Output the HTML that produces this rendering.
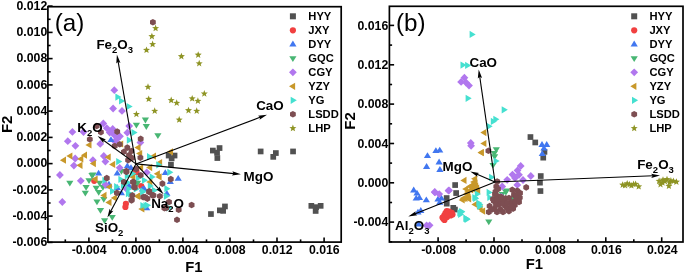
<!DOCTYPE html>
<html><head><meta charset="utf-8"><title>Biplot</title>
<style>html,body{margin:0;padding:0;background:#fff}svg{display:block;will-change:transform;opacity:0.999}text{font-family:"Liberation Sans",sans-serif;fill:#000}</style>
</head><body>
<svg width="685" height="274" viewBox="0 0 685 274" font-family="Liberation Sans, sans-serif">
<rect width="685" height="274" fill="#fff"/>
<g id="pa">
<rect x="165.8" y="152.7" width="5.7" height="5.7" fill="#515151"/>
<rect x="171.7" y="152.7" width="5.7" height="5.7" fill="#515151"/>
<rect x="168.8" y="155.5" width="5.7" height="5.7" fill="#515151"/>
<rect x="168.1" y="161.8" width="5.7" height="5.7" fill="#515151"/>
<rect x="210.0" y="147.7" width="5.7" height="5.7" fill="#515151"/>
<rect x="216.7" y="145.2" width="5.7" height="5.7" fill="#515151"/>
<rect x="214.2" y="149.8" width="5.7" height="5.7" fill="#515151"/>
<rect x="214.5" y="155.2" width="5.7" height="5.7" fill="#515151"/>
<rect x="222.1" y="203.6" width="5.7" height="5.7" fill="#515151"/>
<rect x="217.0" y="207.5" width="5.7" height="5.7" fill="#515151"/>
<rect x="220.3" y="208.0" width="5.7" height="5.7" fill="#515151"/>
<rect x="208.1" y="211.2" width="5.7" height="5.7" fill="#515151"/>
<rect x="257.8" y="148.6" width="5.7" height="5.7" fill="#515151"/>
<rect x="273.0" y="150.2" width="5.7" height="5.7" fill="#515151"/>
<rect x="270.4" y="154.0" width="5.7" height="5.7" fill="#515151"/>
<rect x="290.2" y="148.6" width="5.7" height="5.7" fill="#515151"/>
<rect x="308.5" y="203.0" width="5.7" height="5.7" fill="#515151"/>
<rect x="317.8" y="203.0" width="5.7" height="5.7" fill="#515151"/>
<rect x="313.2" y="204.3" width="5.7" height="5.7" fill="#515151"/>
<rect x="312.8" y="208.1" width="5.7" height="5.7" fill="#515151"/>
<circle cx="135.7" cy="171.1" r="3.1" fill="#F14040"/>
<circle cx="94.2" cy="180.8" r="3.1" fill="#F14040"/>
<circle cx="141.2" cy="186.1" r="3.1" fill="#F14040"/>
<circle cx="125.9" cy="203.8" r="3.1" fill="#F14040"/>
<circle cx="125.4" cy="207.0" r="3.1" fill="#F14040"/>
<circle cx="136.5" cy="171.9" r="3.1" fill="#F14040"/>
<path d="M127.3 162.4L130.9 168.2L123.7 168.2Z" fill="#4177F0"/>
<path d="M98.6 169.7L102.2 175.5L95.0 175.5Z" fill="#4177F0"/>
<path d="M117.2 169.7L120.8 175.5L113.6 175.5Z" fill="#4177F0"/>
<path d="M108.5 182.4L112.1 188.2L104.9 188.2Z" fill="#4177F0"/>
<path d="M117.2 184.1L120.8 189.9L113.6 189.9Z" fill="#4177F0"/>
<path d="M142.4 185.8L146.0 191.6L138.8 191.6Z" fill="#4177F0"/>
<path d="M165.3 169.2L168.9 175.0L161.7 175.0Z" fill="#4177F0"/>
<path d="M178.2 174.9L181.8 180.7L174.6 180.7Z" fill="#4177F0"/>
<path d="M170.3 178.3L173.9 184.1L166.7 184.1Z" fill="#4177F0"/>
<path d="M166.9 190.0L170.5 195.8L163.3 195.8Z" fill="#4177F0"/>
<path d="M146.6 204.4L150.2 210.2L143.0 210.2Z" fill="#4177F0"/>
<path d="M131.0 164.3L134.6 170.1L127.4 170.1Z" fill="#4177F0"/>
<path d="M129.0 182.3L132.6 188.1L125.4 188.1Z" fill="#4177F0"/>
<path d="M109.0 180.8L112.6 186.6L105.4 186.6Z" fill="#4177F0"/>
<path d="M121.4 189.5L125.0 195.3L117.8 195.3Z" fill="#4177F0"/>
<path d="M144.3 185.2L147.9 191.0L140.7 191.0Z" fill="#4177F0"/>
<path d="M145.4 123.4L149.0 117.6L141.8 117.6Z" fill="#48B673"/>
<path d="M136.4 128.5L140.0 122.7L132.8 122.7Z" fill="#48B673"/>
<path d="M146.3 129.9L149.9 124.1L142.7 124.1Z" fill="#48B673"/>
<path d="M157.9 139.0L161.5 133.2L154.3 133.2Z" fill="#48B673"/>
<path d="M92.9 178.2L96.5 172.4L89.3 172.4Z" fill="#48B673"/>
<path d="M121.4 174.8L125.0 169.0L117.8 169.0Z" fill="#48B673"/>
<path d="M69.8 186.5L73.4 180.7L66.2 180.7Z" fill="#48B673"/>
<path d="M92.0 178.9L95.6 173.1L88.4 173.1Z" fill="#48B673"/>
<path d="M89.0 184.0L92.6 178.2L85.4 178.2Z" fill="#48B673"/>
<path d="M86.1 190.7L89.7 184.9L82.5 184.9Z" fill="#48B673"/>
<path d="M85.3 196.6L88.9 190.8L81.7 190.8Z" fill="#48B673"/>
<path d="M96.2 191.5L99.8 185.7L92.6 185.7Z" fill="#48B673"/>
<path d="M99.6 186.5L103.2 180.7L96.0 180.7Z" fill="#48B673"/>
<path d="M98.7 195.7L102.3 189.9L95.1 189.9Z" fill="#48B673"/>
<path d="M97.0 205.2L100.6 199.4L93.4 199.4Z" fill="#48B673"/>
<path d="M103.8 202.7L107.4 196.9L100.2 196.9Z" fill="#48B673"/>
<path d="M100.5 213.7L104.1 207.9L96.9 207.9Z" fill="#48B673"/>
<path d="M102.9 190.7L106.5 184.9L99.3 184.9Z" fill="#48B673"/>
<path d="M135.7 186.5L139.3 180.7L132.1 180.7Z" fill="#48B673"/>
<path d="M104.6 224.0L108.2 218.2L101.0 218.2Z" fill="#48B673"/>
<path d="M112.2 220.7L115.8 214.9L108.6 214.9Z" fill="#48B673"/>
<path d="M137.6 186.5L141.2 180.7L134.0 180.7Z" fill="#48B673"/>
<path d="M114.3 86.3L118.2 90.2L114.3 94.1L110.4 90.2Z" fill="#B177EE"/>
<path d="M113.1 104.6L117.0 108.5L113.1 112.4L109.2 108.5Z" fill="#B177EE"/>
<path d="M122.0 107.0L125.9 110.9L122.0 114.8L118.1 110.9Z" fill="#B177EE"/>
<path d="M129.2 122.1L133.1 126.0L129.2 129.9L125.3 126.0Z" fill="#B177EE"/>
<path d="M103.3 119.6L107.2 123.5L103.3 127.4L99.4 123.5Z" fill="#B177EE"/>
<path d="M72.4 128.0L76.3 131.9L72.4 135.8L68.5 131.9Z" fill="#B177EE"/>
<path d="M67.8 137.3L71.7 141.2L67.8 145.1L63.9 141.2Z" fill="#B177EE"/>
<path d="M127.3 128.8L131.2 132.7L127.3 136.6L123.4 132.7Z" fill="#B177EE"/>
<path d="M100.2 140.0L104.1 143.9L100.2 147.8L96.3 143.9Z" fill="#B177EE"/>
<path d="M75.4 141.9L79.3 145.8L75.4 149.7L71.5 145.8Z" fill="#B177EE"/>
<path d="M103.8 152.1L107.7 156.0L103.8 159.9L99.9 156.0Z" fill="#B177EE"/>
<path d="M75.2 154.6L79.1 158.5L75.2 162.4L71.3 158.5Z" fill="#B177EE"/>
<path d="M92.9 156.3L96.8 160.2L92.9 164.1L89.0 160.2Z" fill="#B177EE"/>
<path d="M105.4 157.7L109.3 161.6L105.4 165.5L101.5 161.6Z" fill="#B177EE"/>
<path d="M73.9 161.7L77.8 165.6L73.9 169.5L70.0 165.6Z" fill="#B177EE"/>
<path d="M59.9 171.1L63.8 175.0L59.9 178.9L56.0 175.0Z" fill="#B177EE"/>
<path d="M119.7 163.9L123.6 167.8L119.7 171.7L115.8 167.8Z" fill="#B177EE"/>
<path d="M140.4 138.7L144.3 142.6L140.4 146.5L136.5 142.6Z" fill="#B177EE"/>
<path d="M146.7 168.5L150.6 172.4L146.7 176.3L142.8 172.4Z" fill="#B177EE"/>
<path d="M80.8 176.9L84.7 180.8L80.8 184.7L76.9 180.8Z" fill="#B177EE"/>
<path d="M62.3 198.1L66.2 202.0L62.3 205.9L58.4 202.0Z" fill="#B177EE"/>
<path d="M106.8 124.3L110.7 128.2L106.8 132.1L102.9 128.2Z" fill="#B177EE"/>
<path d="M112.7 125.1L116.6 129.0L112.7 132.9L108.8 129.0Z" fill="#B177EE"/>
<path d="M109.7 128.7L113.6 132.6L109.7 136.5L105.8 132.6Z" fill="#B177EE"/>
<path d="M114.1 130.9L118.0 134.8L114.1 138.7L110.2 134.8Z" fill="#B177EE"/>
<path d="M117.0 135.3L120.9 139.2L117.0 143.1L113.1 139.2Z" fill="#B177EE"/>
<path d="M120.0 132.4L123.9 136.3L120.0 140.2L116.1 136.3Z" fill="#B177EE"/>
<path d="M114.9 137.7L118.8 141.6L114.9 145.5L111.0 141.6Z" fill="#B177EE"/>
<path d="M83.5 128.1L87.4 132.0L83.5 135.9L79.6 132.0Z" fill="#B177EE"/>
<path d="M105.4 180.6L109.3 184.5L105.4 188.4L101.5 184.5Z" fill="#B177EE"/>
<path d="M126.5 185.0L130.4 188.9L126.5 192.8L122.6 188.9Z" fill="#B177EE"/>
<path d="M85.4 145.0L91.5 141.4L91.5 148.6Z" fill="#C8982A"/>
<path d="M66.3 156.0L72.4 152.4L72.4 159.6Z" fill="#C8982A"/>
<path d="M80.9 155.2L87.0 151.6L87.0 158.8Z" fill="#C8982A"/>
<path d="M59.9 160.2L66.0 156.6L66.0 163.8Z" fill="#C8982A"/>
<path d="M77.2 158.9L83.3 155.3L83.3 162.5Z" fill="#C8982A"/>
<path d="M104.6 157.2L110.7 153.6L110.7 160.8Z" fill="#C8982A"/>
<path d="M89.8 163.6L95.9 160.0L95.9 167.2Z" fill="#C8982A"/>
<path d="M76.4 165.3L82.5 161.7L82.5 168.9Z" fill="#C8982A"/>
<path d="M109.1 164.4L115.2 160.8L115.2 168.0Z" fill="#C8982A"/>
<path d="M134.4 147.6L140.5 144.0L140.5 151.2Z" fill="#C8982A"/>
<path d="M136.1 153.5L142.2 149.9L142.2 157.1Z" fill="#C8982A"/>
<path d="M149.9 156.2L156.0 152.6L156.0 159.8Z" fill="#C8982A"/>
<path d="M146.1 167.6L152.2 164.0L152.2 171.2Z" fill="#C8982A"/>
<path d="M91.5 179.2L97.6 175.6L97.6 182.8Z" fill="#C8982A"/>
<path d="M100.4 195.4L106.5 191.8L106.5 199.0Z" fill="#C8982A"/>
<path d="M105.4 202.4L111.5 198.8L111.5 206.0Z" fill="#C8982A"/>
<path d="M110.8 197.9L116.9 194.3L116.9 201.5Z" fill="#C8982A"/>
<path d="M105.7 187.0L111.8 183.4L111.8 190.6Z" fill="#C8982A"/>
<path d="M129.2 176.9L135.3 173.3L135.3 180.5Z" fill="#C8982A"/>
<path d="M134.3 196.2L140.4 192.6L140.4 199.8Z" fill="#C8982A"/>
<path d="M138.3 209.0L144.4 205.4L144.4 212.6Z" fill="#C8982A"/>
<path d="M166.9 151.8L173.0 148.2L173.0 155.4Z" fill="#C8982A"/>
<path d="M156.0 162.7L162.1 159.1L162.1 166.3Z" fill="#C8982A"/>
<path d="M137.0 167.8L143.1 164.2L143.1 171.4Z" fill="#C8982A"/>
<path d="M153.8 173.8L159.9 170.2L159.9 177.4Z" fill="#C8982A"/>
<path d="M155.5 176.9L161.6 173.3L161.6 180.5Z" fill="#C8982A"/>
<path d="M146.2 182.0L152.3 178.4L152.3 185.6Z" fill="#C8982A"/>
<path d="M133.7 196.2L139.8 192.6L139.8 199.8Z" fill="#C8982A"/>
<path d="M117.1 144.0L123.2 140.4L123.2 147.6Z" fill="#C8982A"/>
<path d="M121.5 97.1L115.4 93.5L115.4 100.7Z" fill="#45E0D0"/>
<path d="M125.1 101.0L119.0 97.4L119.0 104.6Z" fill="#45E0D0"/>
<path d="M132.7 106.5L126.6 102.9L126.6 110.1Z" fill="#45E0D0"/>
<path d="M137.6 132.6L131.5 129.0L131.5 136.2Z" fill="#45E0D0"/>
<path d="M132.9 140.2L126.8 136.6L126.8 143.8Z" fill="#45E0D0"/>
<path d="M122.3 161.6L116.2 158.0L116.2 165.2Z" fill="#45E0D0"/>
<path d="M153.1 156.7L147.0 153.1L147.0 160.3Z" fill="#45E0D0"/>
<path d="M108.5 180.3L102.4 176.7L102.4 183.9Z" fill="#45E0D0"/>
<path d="M116.1 191.2L110.0 187.6L110.0 194.8Z" fill="#45E0D0"/>
<path d="M124.5 179.4L118.4 175.8L118.4 183.0Z" fill="#45E0D0"/>
<path d="M127.0 185.3L120.9 181.7L120.9 188.9Z" fill="#45E0D0"/>
<path d="M132.0 193.7L125.9 190.1L125.9 197.3Z" fill="#45E0D0"/>
<path d="M146.3 192.0L140.2 188.4L140.2 195.6Z" fill="#45E0D0"/>
<path d="M148.0 180.3L141.9 176.7L141.9 183.9Z" fill="#45E0D0"/>
<path d="M158.0 190.3L151.9 186.7L151.9 193.9Z" fill="#45E0D0"/>
<path d="M149.6 205.5L143.5 201.9L143.5 209.1Z" fill="#45E0D0"/>
<path d="M146.5 205.5L140.4 201.9L140.4 209.1Z" fill="#45E0D0"/>
<path d="M151.1 205.3L145.0 201.7L145.0 208.9Z" fill="#45E0D0"/>
<path d="M162.4 164.8L156.3 161.2L156.3 168.4Z" fill="#45E0D0"/>
<path d="M173.4 172.3L167.3 168.7L167.3 175.9Z" fill="#45E0D0"/>
<path d="M155.7 176.9L149.6 173.3L149.6 180.5Z" fill="#45E0D0"/>
<path d="M170.5 188.7L164.4 185.1L164.4 192.3Z" fill="#45E0D0"/>
<path d="M170.0 196.2L163.9 192.6L163.9 199.8Z" fill="#45E0D0"/>
<path d="M146.5 191.2L140.4 187.6L140.4 194.8Z" fill="#45E0D0"/>
<path d="M172.5 207.8L166.4 204.2L166.4 211.4Z" fill="#45E0D0"/>
<path d="M130.9 176.0L124.8 172.4L124.8 179.6Z" fill="#45E0D0"/>
<path d="M136.4 173.5L130.3 169.9L130.3 177.1Z" fill="#45E0D0"/>
<path d="M131.4 182.5L125.3 178.9L125.3 186.1Z" fill="#45E0D0"/>
<path d="M132.4 189.0L126.3 185.4L126.3 192.6Z" fill="#45E0D0"/>
<path d="M141.9 178.0L135.8 174.4L135.8 181.6Z" fill="#45E0D0"/>
<path d="M153.9 186.0L147.8 182.4L147.8 189.6Z" fill="#45E0D0"/>
<path d="M120.2 186.7L114.1 183.1L114.1 190.3Z" fill="#45E0D0"/>
<path d="M134.1 194.0L128.0 190.4L128.0 197.6Z" fill="#45E0D0"/>
<path d="M139.9 189.0L133.8 185.4L133.8 192.6Z" fill="#45E0D0"/>
<path d="M155.8 23.9L152.9 25.6L150.0 23.9L150.0 20.6L152.9 19.0L155.8 20.6Z" fill="#7D4E52"/>
<path d="M99.6 127.7L96.7 129.3L93.8 127.7L93.8 124.3L96.7 122.7L99.6 124.3Z" fill="#7D4E52"/>
<path d="M103.8 133.8L100.9 135.5L98.0 133.8L98.0 130.5L100.9 128.9L103.8 130.5Z" fill="#7D4E52"/>
<path d="M120.1 133.2L117.2 134.9L114.3 133.2L114.3 129.9L117.2 128.3L120.1 129.9Z" fill="#7D4E52"/>
<path d="M92.7 141.0L89.8 142.6L86.9 141.0L86.9 137.7L89.8 136.0L92.7 137.7Z" fill="#7D4E52"/>
<path d="M143.6 140.5L140.7 142.1L137.8 140.5L137.8 137.2L140.7 135.5L143.6 137.2Z" fill="#7D4E52"/>
<path d="M130.2 149.2L127.3 150.9L124.4 149.2L124.4 145.9L127.3 144.3L130.2 145.9Z" fill="#7D4E52"/>
<path d="M126.8 153.5L123.9 155.1L121.0 153.5L121.0 150.2L123.9 148.5L126.8 150.2Z" fill="#7D4E52"/>
<path d="M131.9 156.8L129.0 158.5L126.1 156.8L126.1 153.5L129.0 151.9L131.9 153.5Z" fill="#7D4E52"/>
<path d="M131.0 161.8L128.1 163.5L125.2 161.8L125.2 158.5L128.1 156.9L131.0 158.5Z" fill="#7D4E52"/>
<path d="M122.6 146.0L119.7 147.6L116.8 146.0L116.8 142.7L119.7 141.0L122.6 142.7Z" fill="#7D4E52"/>
<path d="M117.6 147.7L114.7 149.3L111.8 147.7L111.8 144.3L114.7 142.7L117.6 144.3Z" fill="#7D4E52"/>
<path d="M143.3 159.3L140.4 161.0L137.5 159.3L137.5 156.0L140.4 154.4L143.3 156.0Z" fill="#7D4E52"/>
<path d="M129.3 172.8L126.4 174.4L123.5 172.8L123.5 169.4L126.4 167.8L129.3 169.4Z" fill="#7D4E52"/>
<path d="M139.1 170.7L136.2 172.3L133.3 170.7L133.3 167.3L136.2 165.7L139.1 167.3Z" fill="#7D4E52"/>
<path d="M109.7 179.8L106.8 181.4L103.9 179.8L103.9 176.4L106.8 174.8L109.7 176.4Z" fill="#7D4E52"/>
<path d="M119.8 194.6L116.9 196.2L114.0 194.6L114.0 191.2L116.9 189.6L119.8 191.2Z" fill="#7D4E52"/>
<path d="M129.3 173.6L126.4 175.2L123.5 173.6L123.5 170.2L126.4 168.6L129.3 170.2Z" fill="#7D4E52"/>
<path d="M126.8 183.7L123.9 185.3L121.0 183.7L121.0 180.3L123.9 178.7L126.8 180.3Z" fill="#7D4E52"/>
<path d="M136.0 183.7L133.1 185.3L130.2 183.7L130.2 180.3L133.1 178.7L136.0 180.3Z" fill="#7D4E52"/>
<path d="M137.7 189.2L134.8 190.8L131.9 189.2L131.9 185.8L134.8 184.2L137.7 185.8Z" fill="#7D4E52"/>
<path d="M143.6 176.8L140.7 178.5L137.8 176.8L137.8 173.5L140.7 171.9L143.6 173.5Z" fill="#7D4E52"/>
<path d="M135.2 197.1L132.3 198.7L129.4 197.1L129.4 193.8L132.3 192.1L135.2 193.8Z" fill="#7D4E52"/>
<path d="M134.4 202.1L131.5 203.7L128.6 202.1L128.6 198.8L131.5 197.1L134.4 198.8Z" fill="#7D4E52"/>
<path d="M146.1 198.8L143.2 200.4L140.3 198.8L140.3 195.4L143.2 193.8L146.1 195.4Z" fill="#7D4E52"/>
<path d="M150.3 200.3L147.4 202.0L144.5 200.3L144.5 197.0L147.4 195.4L150.3 197.0Z" fill="#7D4E52"/>
<path d="M152.0 193.7L149.1 195.3L146.2 193.7L146.2 190.3L149.1 188.7L152.0 190.3Z" fill="#7D4E52"/>
<path d="M155.4 197.1L152.5 198.7L149.6 197.1L149.6 193.8L152.5 192.1L155.4 193.8Z" fill="#7D4E52"/>
<path d="M173.7 180.8L170.8 182.4L167.9 180.8L167.9 177.4L170.8 175.8L173.7 177.4Z" fill="#7D4E52"/>
<path d="M165.3 185.2L162.4 186.9L159.5 185.2L159.5 181.9L162.4 180.3L165.3 181.9Z" fill="#7D4E52"/>
<path d="M162.8 197.8L159.9 199.5L157.0 197.8L157.0 194.5L159.9 192.9L162.8 194.5Z" fill="#7D4E52"/>
<path d="M156.4 197.1L153.5 198.7L150.6 197.1L150.6 193.8L153.5 192.1L156.4 193.8Z" fill="#7D4E52"/>
<path d="M152.2 192.8L149.3 194.5L146.4 192.8L146.4 189.5L149.3 187.9L152.2 189.5Z" fill="#7D4E52"/>
<path d="M148.0 198.8L145.1 200.4L142.2 198.8L142.2 195.4L145.1 193.8L148.0 195.4Z" fill="#7D4E52"/>
<path d="M171.9 203.7L169.0 205.3L166.1 203.7L166.1 200.3L169.0 198.7L171.9 200.3Z" fill="#7D4E52"/>
<path d="M194.5 206.7L191.6 208.3L188.7 206.7L188.7 203.3L191.6 201.7L194.5 203.3Z" fill="#7D4E52"/>
<path d="M181.6 211.5L178.7 213.1L175.8 211.5L175.8 208.2L178.7 206.5L181.6 208.2Z" fill="#7D4E52"/>
<path d="M169.0 209.7L166.1 211.3L163.2 209.7L163.2 206.3L166.1 204.7L169.0 206.3Z" fill="#7D4E52"/>
<path d="M179.9 221.5L177.0 223.1L174.1 221.5L174.1 218.2L177.0 216.5L179.9 218.2Z" fill="#7D4E52"/>
<path d="M167.3 209.8L164.4 211.4L161.5 209.8L161.5 206.4L164.4 204.8L167.3 206.4Z" fill="#7D4E52"/>
<path d="M136.3 183.7L133.4 185.3L130.5 183.7L130.5 180.3L133.4 178.7L136.3 180.3Z" fill="#7D4E52"/>
<path d="M137.1 188.7L134.2 190.3L131.3 188.7L131.3 185.3L134.2 183.7L137.1 185.3Z" fill="#7D4E52"/>
<path d="M134.6 201.2L131.7 202.9L128.8 201.2L128.8 197.9L131.7 196.3L134.6 197.9Z" fill="#7D4E52"/>
<path d="M134.4 152.7L131.5 154.3L128.6 152.7L128.6 149.3L131.5 147.7L134.4 149.3Z" fill="#7D4E52"/>
<path d="M134.9 159.7L132.0 161.3L129.1 159.7L129.1 156.3L132.0 154.7L134.9 156.3Z" fill="#7D4E52"/>
<path d="M155.6 24.6L156.5 27.0L159.1 27.2L157.1 28.8L157.8 31.3L155.6 29.9L153.4 31.3L154.1 28.8L152.1 27.2L154.7 27.0Z" fill="#8E9424"/>
<path d="M151.9 32.7L152.8 35.1L155.4 35.3L153.4 36.9L154.1 39.4L151.9 38.0L149.7 39.4L150.4 36.9L148.4 35.3L151.0 35.1Z" fill="#8E9424"/>
<path d="M152.6 40.6L153.5 43.0L156.1 43.2L154.1 44.8L154.8 47.3L152.6 45.9L150.4 47.3L151.1 44.8L149.1 43.2L151.7 43.0Z" fill="#8E9424"/>
<path d="M146.5 46.4L147.4 48.8L150.0 49.0L148.0 50.6L148.7 53.1L146.5 51.7L144.3 53.1L145.0 50.6L143.0 49.0L145.6 48.8Z" fill="#8E9424"/>
<path d="M181.4 52.7L182.3 55.1L184.9 55.3L182.9 56.9L183.6 59.4L181.4 58.0L179.2 59.4L179.9 56.9L177.9 55.3L180.5 55.1Z" fill="#8E9424"/>
<path d="M198.2 51.2L199.1 53.6L201.7 53.8L199.7 55.4L200.4 57.9L198.2 56.5L196.0 57.9L196.7 55.4L194.7 53.8L197.3 53.6Z" fill="#8E9424"/>
<path d="M199.2 59.8L200.1 62.2L202.7 62.4L200.7 64.0L201.4 66.5L199.2 65.1L197.0 66.5L197.7 64.0L195.7 62.4L198.3 62.2Z" fill="#8E9424"/>
<path d="M148.0 83.3L148.9 85.7L151.5 85.9L149.5 87.5L150.2 90.0L148.0 88.6L145.8 90.0L146.5 87.5L144.5 85.9L147.1 85.7Z" fill="#8E9424"/>
<path d="M204.3 90.0L205.2 92.4L207.8 92.6L205.8 94.2L206.5 96.7L204.3 95.3L202.1 96.7L202.8 94.2L200.8 92.6L203.4 92.4Z" fill="#8E9424"/>
<path d="M148.7 95.4L149.6 97.8L152.2 98.0L150.2 99.6L150.9 102.1L148.7 100.7L146.5 102.1L147.2 99.6L145.2 98.0L147.8 97.8Z" fill="#8E9424"/>
<path d="M171.2 96.6L172.1 99.0L174.7 99.2L172.7 100.8L173.4 103.3L171.2 101.9L169.0 103.3L169.7 100.8L167.7 99.2L170.3 99.0Z" fill="#8E9424"/>
<path d="M176.7 99.3L177.6 101.7L180.2 101.9L178.2 103.5L178.9 106.0L176.7 104.6L174.5 106.0L175.2 103.5L173.2 101.9L175.8 101.7Z" fill="#8E9424"/>
<path d="M192.2 94.9L193.1 97.3L195.7 97.5L193.7 99.1L194.4 101.6L192.2 100.2L190.0 101.6L190.7 99.1L188.7 97.5L191.3 97.3Z" fill="#8E9424"/>
<path d="M197.9 97.3L198.8 99.7L201.4 99.9L199.4 101.5L200.1 104.0L197.9 102.6L195.7 104.0L196.4 101.5L194.4 99.9L197.0 99.7Z" fill="#8E9424"/>
<path d="M154.7 107.3L155.6 109.7L158.2 109.9L156.2 111.5L156.9 114.0L154.7 112.6L152.5 114.0L153.2 111.5L151.2 109.9L153.8 109.7Z" fill="#8E9424"/>
<path d="M188.5 106.7L189.4 109.1L192.0 109.3L190.0 110.9L190.7 113.4L188.5 112.0L186.3 113.4L187.0 110.9L185.0 109.3L187.6 109.1Z" fill="#8E9424"/>
<path d="M196.7 107.3L197.6 109.7L200.2 109.9L198.2 111.5L198.9 114.0L196.7 112.6L194.5 114.0L195.2 111.5L193.2 109.9L195.8 109.7Z" fill="#8E9424"/>
<path d="M136.4 110.5L137.3 112.9L139.9 113.1L137.9 114.7L138.6 117.2L136.4 115.8L134.2 117.2L134.9 114.7L132.9 113.1L135.5 112.9Z" fill="#8E9424"/>
<path d="M179.2 116.1L180.1 118.5L182.7 118.7L180.7 120.3L181.4 122.8L179.2 121.4L177.0 122.8L177.7 120.3L175.7 118.7L178.3 118.5Z" fill="#8E9424"/>
<path d="M111.0 136.2L114.6 142.0L107.4 142.0Z" fill="#4177F0"/>
<line x1="135.9" y1="163.9" x2="118.1" y2="61.3" stroke="#000" stroke-width="1.1"/><path d="M116.9 54.6L120.5 62.9L118.2 61.8L116.3 63.6Z" fill="#000"/>
<line x1="135.9" y1="163.9" x2="260.6" y2="117.1" stroke="#000" stroke-width="1.1"/><path d="M267.0 114.7L259.5 119.8L260.2 117.3L258.0 115.8Z" fill="#000"/>
<line x1="135.9" y1="163.9" x2="234.1" y2="173.6" stroke="#000" stroke-width="1.1"/><path d="M240.9 174.3L231.9 175.6L233.6 173.6L232.4 171.3Z" fill="#000"/>
<line x1="135.9" y1="163.9" x2="159.0" y2="189.2" stroke="#000" stroke-width="1.1"/><path d="M163.6 194.2L156.1 189.2L158.7 188.8L159.2 186.3Z" fill="#000"/>
<line x1="135.9" y1="163.9" x2="110.6" y2="211.6" stroke="#000" stroke-width="1.1"/><path d="M107.4 217.6L109.6 208.8L110.8 211.2L113.4 210.8Z" fill="#000"/>
<line x1="135.9" y1="163.9" x2="103.1" y2="140.0" stroke="#000" stroke-width="1.1"/><path d="M97.6 136.0L106.0 139.4L103.5 140.3L103.4 142.9Z" fill="#000"/>
<text x="96.4" y="49.2" font-size="13.4" font-weight="bold">Fe<tspan font-size="9.5" dy="3.9">2</tspan><tspan dy="-3.9" font-size="1">&#8203;</tspan>O<tspan font-size="9.5" dy="3.9">3</tspan><tspan dy="-3.9" font-size="1">&#8203;</tspan></text>
<text x="256.2" y="110.2" font-size="13.4" font-weight="bold">CaO</text>
<text x="243.6" y="180.5" font-size="13.4" font-weight="bold">MgO</text>
<text x="151.2" y="208.0" font-size="13.4" font-weight="bold">Na<tspan font-size="9.5" dy="3.9">2</tspan><tspan dy="-3.9" font-size="1">&#8203;</tspan>O</text>
<text x="95.0" y="232.2" font-size="13.4" font-weight="bold">SiO<tspan font-size="9.5" dy="3.9">2</tspan><tspan dy="-3.9" font-size="1">&#8203;</tspan></text>
<text x="77.3" y="131.6" font-size="13.4" font-weight="bold">K<tspan font-size="9.5" dy="3.9">2</tspan><tspan dy="-3.9" font-size="1">&#8203;</tspan>O</text>
<line x1="88.9" y1="242.1" x2="88.9" y2="237.4" stroke="#000" stroke-width="1.6"/>
<text x="89.1" y="254.3" font-size="12.3" font-weight="bold" text-anchor="middle">-0.004</text>
<line x1="135.9" y1="242.1" x2="135.9" y2="237.4" stroke="#000" stroke-width="1.6"/>
<text x="136.1" y="254.3" font-size="12.3" font-weight="bold" text-anchor="middle">0.000</text>
<line x1="182.9" y1="242.1" x2="182.9" y2="237.4" stroke="#000" stroke-width="1.6"/>
<text x="183.1" y="254.3" font-size="12.3" font-weight="bold" text-anchor="middle">0.004</text>
<line x1="230.0" y1="242.1" x2="230.0" y2="237.4" stroke="#000" stroke-width="1.6"/>
<text x="230.2" y="254.3" font-size="12.3" font-weight="bold" text-anchor="middle">0.008</text>
<line x1="277.0" y1="242.1" x2="277.0" y2="237.4" stroke="#000" stroke-width="1.6"/>
<text x="277.2" y="254.3" font-size="12.3" font-weight="bold" text-anchor="middle">0.012</text>
<line x1="324.1" y1="242.1" x2="324.1" y2="237.4" stroke="#000" stroke-width="1.6"/>
<text x="324.3" y="254.3" font-size="12.3" font-weight="bold" text-anchor="middle">0.016</text>
<line x1="65.3" y1="242.1" x2="65.3" y2="239.4" stroke="#000" stroke-width="1.6"/>
<line x1="112.4" y1="242.1" x2="112.4" y2="239.4" stroke="#000" stroke-width="1.6"/>
<line x1="159.4" y1="242.1" x2="159.4" y2="239.4" stroke="#000" stroke-width="1.6"/>
<line x1="206.5" y1="242.1" x2="206.5" y2="239.4" stroke="#000" stroke-width="1.6"/>
<line x1="253.5" y1="242.1" x2="253.5" y2="239.4" stroke="#000" stroke-width="1.6"/>
<line x1="300.6" y1="242.1" x2="300.6" y2="239.4" stroke="#000" stroke-width="1.6"/>
<line x1="47.9" y1="242.4" x2="52.6" y2="242.4" stroke="#000" stroke-width="1.6"/>
<text x="47.3" y="246.2" font-size="12.3" font-weight="bold" text-anchor="end">-0.006</text>
<line x1="47.9" y1="216.1" x2="52.6" y2="216.1" stroke="#000" stroke-width="1.6"/>
<text x="47.3" y="219.9" font-size="12.3" font-weight="bold" text-anchor="end">-0.004</text>
<line x1="47.9" y1="189.9" x2="52.6" y2="189.9" stroke="#000" stroke-width="1.6"/>
<text x="47.3" y="193.7" font-size="12.3" font-weight="bold" text-anchor="end">-0.002</text>
<line x1="47.9" y1="163.6" x2="52.6" y2="163.6" stroke="#000" stroke-width="1.6"/>
<text x="47.3" y="167.4" font-size="12.3" font-weight="bold" text-anchor="end">0.000</text>
<line x1="47.9" y1="137.4" x2="52.6" y2="137.4" stroke="#000" stroke-width="1.6"/>
<text x="47.3" y="141.2" font-size="12.3" font-weight="bold" text-anchor="end">0.002</text>
<line x1="47.9" y1="111.1" x2="52.6" y2="111.1" stroke="#000" stroke-width="1.6"/>
<text x="47.3" y="114.9" font-size="12.3" font-weight="bold" text-anchor="end">0.004</text>
<line x1="47.9" y1="84.9" x2="52.6" y2="84.9" stroke="#000" stroke-width="1.6"/>
<text x="47.3" y="88.7" font-size="12.3" font-weight="bold" text-anchor="end">0.006</text>
<line x1="47.9" y1="58.6" x2="52.6" y2="58.6" stroke="#000" stroke-width="1.6"/>
<text x="47.3" y="62.4" font-size="12.3" font-weight="bold" text-anchor="end">0.008</text>
<line x1="47.9" y1="32.4" x2="52.6" y2="32.4" stroke="#000" stroke-width="1.6"/>
<text x="47.3" y="36.2" font-size="12.3" font-weight="bold" text-anchor="end">0.010</text>
<line x1="47.9" y1="6.1" x2="52.6" y2="6.1" stroke="#000" stroke-width="1.6"/>
<text x="47.3" y="9.9" font-size="12.3" font-weight="bold" text-anchor="end">0.012</text>
<line x1="47.9" y1="229.2" x2="50.6" y2="229.2" stroke="#000" stroke-width="1.6"/>
<line x1="47.9" y1="203.0" x2="50.6" y2="203.0" stroke="#000" stroke-width="1.6"/>
<line x1="47.9" y1="176.7" x2="50.6" y2="176.7" stroke="#000" stroke-width="1.6"/>
<line x1="47.9" y1="150.5" x2="50.6" y2="150.5" stroke="#000" stroke-width="1.6"/>
<line x1="47.9" y1="124.2" x2="50.6" y2="124.2" stroke="#000" stroke-width="1.6"/>
<line x1="47.9" y1="98.0" x2="50.6" y2="98.0" stroke="#000" stroke-width="1.6"/>
<line x1="47.9" y1="71.8" x2="50.6" y2="71.8" stroke="#000" stroke-width="1.6"/>
<line x1="47.9" y1="45.5" x2="50.6" y2="45.5" stroke="#000" stroke-width="1.6"/>
<line x1="47.9" y1="19.3" x2="50.6" y2="19.3" stroke="#000" stroke-width="1.6"/>
<rect x="47.9" y="6.7" width="293.3" height="235.4" fill="none" stroke="#000" stroke-width="1.7"/>
</g>
<g id="pb">
<rect x="527.6" y="134.2" width="5.7" height="5.7" fill="#515151"/>
<rect x="532.4" y="139.6" width="5.7" height="5.7" fill="#515151"/>
<rect x="541.6" y="149.0" width="5.7" height="5.7" fill="#515151"/>
<rect x="540.4" y="154.8" width="5.7" height="5.7" fill="#515151"/>
<rect x="537.9" y="173.2" width="5.7" height="5.7" fill="#515151"/>
<rect x="537.1" y="179.8" width="5.7" height="5.7" fill="#515151"/>
<rect x="537.6" y="188.2" width="5.7" height="5.7" fill="#515151"/>
<rect x="452.3" y="182.2" width="5.7" height="5.7" fill="#515151"/>
<rect x="453.3" y="190.2" width="5.7" height="5.7" fill="#515151"/>
<rect x="443.8" y="195.2" width="5.7" height="5.7" fill="#515151"/>
<rect x="443.9" y="200.8" width="5.7" height="5.7" fill="#515151"/>
<rect x="450.4" y="205.0" width="5.7" height="5.7" fill="#515151"/>
<rect x="452.1" y="206.7" width="5.7" height="5.7" fill="#515151"/>
<circle cx="446.8" cy="211.1" r="3.1" fill="#F14040"/>
<circle cx="444.3" cy="215.3" r="3.1" fill="#F14040"/>
<circle cx="448.5" cy="214.5" r="3.1" fill="#F14040"/>
<circle cx="451.8" cy="212.8" r="3.1" fill="#F14040"/>
<circle cx="443.4" cy="218.7" r="3.1" fill="#F14040"/>
<circle cx="445.5" cy="213.0" r="3.1" fill="#F14040"/>
<circle cx="442.5" cy="217.5" r="3.1" fill="#F14040"/>
<circle cx="447.0" cy="217.0" r="3.1" fill="#F14040"/>
<circle cx="450.5" cy="215.5" r="3.1" fill="#F14040"/>
<circle cx="449.0" cy="211.5" r="3.1" fill="#F14040"/>
<circle cx="452.5" cy="214.5" r="3.1" fill="#F14040"/>
<circle cx="444.5" cy="220.0" r="3.1" fill="#F14040"/>
<path d="M435.9 147.3L439.5 153.1L432.3 153.1Z" fill="#4177F0"/>
<path d="M439.7 146.8L443.3 152.6L436.1 152.6Z" fill="#4177F0"/>
<path d="M427.5 152.3L431.1 158.1L423.9 158.1Z" fill="#4177F0"/>
<path d="M426.6 163.1L430.2 168.9L423.0 168.9Z" fill="#4177F0"/>
<path d="M439.1 158.6L442.7 164.4L435.5 164.4Z" fill="#4177F0"/>
<path d="M439.9 166.1L443.5 171.9L436.3 171.9Z" fill="#4177F0"/>
<path d="M413.7 186.6L417.3 192.4L410.1 192.4Z" fill="#4177F0"/>
<path d="M417.0 189.8L420.6 195.6L413.4 195.6Z" fill="#4177F0"/>
<path d="M418.0 208.8L421.6 214.6L414.4 214.6Z" fill="#4177F0"/>
<path d="M420.8 207.1L424.4 212.9L417.2 212.9Z" fill="#4177F0"/>
<path d="M416.2 194.8L419.8 200.6L412.6 200.6Z" fill="#4177F0"/>
<path d="M419.5 194.3L423.1 200.1L415.9 200.1Z" fill="#4177F0"/>
<path d="M426.3 196.5L429.9 202.3L422.7 202.3Z" fill="#4177F0"/>
<path d="M438.0 195.7L441.6 201.5L434.4 201.5Z" fill="#4177F0"/>
<path d="M441.4 194.8L445.0 200.6L437.8 200.6Z" fill="#4177F0"/>
<path d="M439.7 199.0L443.3 204.8L436.1 204.8Z" fill="#4177F0"/>
<path d="M418.7 220.8L422.3 226.6L415.1 226.6Z" fill="#4177F0"/>
<path d="M542.0 141.1L545.6 146.9L538.4 146.9Z" fill="#4177F0"/>
<path d="M546.7 141.1L550.3 146.9L543.1 146.9Z" fill="#4177F0"/>
<path d="M544.0 144.8L547.6 150.6L540.4 150.6Z" fill="#4177F0"/>
<path d="M542.3 150.3L545.9 156.1L538.7 156.1Z" fill="#4177F0"/>
<path d="M496.3 153.1L499.9 147.3L492.7 147.3Z" fill="#48B673"/>
<path d="M494.3 156.8L497.9 151.0L490.7 151.0Z" fill="#48B673"/>
<path d="M494.6 160.1L498.2 154.3L491.0 154.3Z" fill="#48B673"/>
<path d="M493.0 168.7L496.6 162.9L489.4 162.9Z" fill="#48B673"/>
<path d="M506.4 194.4L510.0 188.6L502.8 188.6Z" fill="#48B673"/>
<path d="M502.2 197.8L505.8 192.0L498.6 192.0Z" fill="#48B673"/>
<path d="M512.3 202.1L515.9 196.3L508.7 196.3Z" fill="#48B673"/>
<path d="M488.8 225.2L492.4 219.4L485.2 219.4Z" fill="#48B673"/>
<path d="M505.9 195.5L509.5 189.7L502.3 189.7Z" fill="#48B673"/>
<path d="M511.8 202.0L515.4 196.2L508.2 196.2Z" fill="#48B673"/>
<path d="M464.4 73.8L468.3 77.7L464.4 81.6L460.5 77.7Z" fill="#B177EE"/>
<path d="M461.1 78.0L465.0 81.9L461.1 85.8L457.2 81.9Z" fill="#B177EE"/>
<path d="M466.0 78.6L469.9 82.5L466.0 86.4L462.1 82.5Z" fill="#B177EE"/>
<path d="M469.0 81.7L472.9 85.6L469.0 89.5L465.1 85.6Z" fill="#B177EE"/>
<path d="M470.8 139.1L474.7 143.0L470.8 146.9L466.9 143.0Z" fill="#B177EE"/>
<path d="M471.1 141.9L475.0 145.8L471.1 149.7L467.2 145.8Z" fill="#B177EE"/>
<path d="M520.7 162.1L524.6 166.0L520.7 169.9L516.8 166.0Z" fill="#B177EE"/>
<path d="M517.5 166.5L521.4 170.4L517.5 174.3L513.6 170.4Z" fill="#B177EE"/>
<path d="M512.5 170.7L516.4 174.6L512.5 178.5L508.6 174.6Z" fill="#B177EE"/>
<path d="M507.2 175.9L511.1 179.8L507.2 183.7L503.3 179.8Z" fill="#B177EE"/>
<path d="M519.0 170.9L522.9 174.8L519.0 178.7L515.1 174.8Z" fill="#B177EE"/>
<path d="M530.8 172.1L534.7 176.0L530.8 179.9L526.9 176.0Z" fill="#B177EE"/>
<path d="M517.3 181.0L521.2 184.9L517.3 188.8L513.4 184.9Z" fill="#B177EE"/>
<path d="M523.0 176.1L526.9 180.0L523.0 183.9L519.1 180.0Z" fill="#B177EE"/>
<path d="M502.2 182.6L506.1 186.5L502.2 190.4L498.3 186.5Z" fill="#B177EE"/>
<path d="M515.0 174.1L518.9 178.0L515.0 181.9L511.1 178.0Z" fill="#B177EE"/>
<path d="M435.0 188.5L438.9 192.4L435.0 196.3L431.1 192.4Z" fill="#B177EE"/>
<path d="M439.2 190.2L443.1 194.1L439.2 198.0L435.3 194.1Z" fill="#B177EE"/>
<path d="M448.5 186.8L452.4 190.7L448.5 194.6L444.6 190.7Z" fill="#B177EE"/>
<path d="M434.7 188.1L438.6 192.0L434.7 195.9L430.8 192.0Z" fill="#B177EE"/>
<path d="M449.0 186.4L452.9 190.3L449.0 194.2L445.1 190.3Z" fill="#B177EE"/>
<path d="M426.6 221.5L430.5 225.4L426.6 229.3L422.7 225.4Z" fill="#B177EE"/>
<path d="M429.6 221.4L433.5 225.3L429.6 229.2L425.7 225.3Z" fill="#B177EE"/>
<path d="M501.4 192.9L505.3 196.8L501.4 200.7L497.5 196.8Z" fill="#B177EE"/>
<path d="M480.3 132.6L486.4 129.0L486.4 136.2Z" fill="#C8982A"/>
<path d="M480.3 143.5L486.4 139.9L486.4 147.1Z" fill="#C8982A"/>
<path d="M477.8 152.7L483.9 149.1L483.9 156.3Z" fill="#C8982A"/>
<path d="M477.5 152.5L483.6 148.9L483.6 156.1Z" fill="#C8982A"/>
<path d="M460.4 180.4L466.5 176.8L466.5 184.0Z" fill="#C8982A"/>
<path d="M471.1 178.8L477.2 175.2L477.2 182.4Z" fill="#C8982A"/>
<path d="M471.4 183.2L477.5 179.6L477.5 186.8Z" fill="#C8982A"/>
<path d="M468.1 185.5L474.2 181.9L474.2 189.1Z" fill="#C8982A"/>
<path d="M462.2 189.1L468.3 185.5L468.3 192.7Z" fill="#C8982A"/>
<path d="M467.1 190.0L473.2 186.4L473.2 193.6Z" fill="#C8982A"/>
<path d="M473.1 188.0L479.2 184.4L479.2 191.6Z" fill="#C8982A"/>
<path d="M459.7 198.3L465.8 194.7L465.8 201.9Z" fill="#C8982A"/>
<path d="M464.6 197.5L470.7 193.9L470.7 201.1Z" fill="#C8982A"/>
<path d="M463.1 194.0L469.2 190.4L469.2 197.6Z" fill="#C8982A"/>
<path d="M461.4 198.5L467.5 194.9L467.5 202.1Z" fill="#C8982A"/>
<path d="M458.6 200.0L464.7 196.4L464.7 203.6Z" fill="#C8982A"/>
<path d="M465.1 199.0L471.2 195.4L471.2 202.6Z" fill="#C8982A"/>
<path d="M471.4 204.4L477.5 200.8L477.5 208.0Z" fill="#C8982A"/>
<path d="M479.0 211.1L485.1 207.5L485.1 214.7Z" fill="#C8982A"/>
<path d="M476.6 208.5L482.7 204.9L482.7 212.1Z" fill="#C8982A"/>
<path d="M470.1 182.0L476.2 178.4L476.2 185.6Z" fill="#C8982A"/>
<path d="M472.1 186.0L478.2 182.4L478.2 189.6Z" fill="#C8982A"/>
<path d="M469.1 189.0L475.2 185.4L475.2 192.6Z" fill="#C8982A"/>
<path d="M474.1 191.0L480.2 187.4L480.2 194.6Z" fill="#C8982A"/>
<path d="M466.1 186.5L472.2 182.9L472.2 190.1Z" fill="#C8982A"/>
<path d="M464.1 192.0L470.2 188.4L470.2 195.6Z" fill="#C8982A"/>
<path d="M475.7 34.4L469.6 30.8L469.6 38.0Z" fill="#45E0D0"/>
<path d="M466.6 65.1L460.5 61.5L460.5 68.7Z" fill="#45E0D0"/>
<path d="M471.2 65.4L465.1 61.8L465.1 69.0Z" fill="#45E0D0"/>
<path d="M471.7 98.3L465.6 94.7L465.6 101.9Z" fill="#45E0D0"/>
<path d="M507.8 109.8L501.7 106.2L501.7 113.4Z" fill="#45E0D0"/>
<path d="M499.4 119.3L493.3 115.7L493.3 122.9Z" fill="#45E0D0"/>
<path d="M496.9 121.4L490.8 117.8L490.8 125.0Z" fill="#45E0D0"/>
<path d="M492.7 126.3L486.6 122.7L486.6 129.9Z" fill="#45E0D0"/>
<path d="M499.7 161.0L493.6 157.4L493.6 164.6Z" fill="#45E0D0"/>
<path d="M480.9 194.1L474.8 190.5L474.8 197.7Z" fill="#45E0D0"/>
<path d="M478.4 197.5L472.3 193.9L472.3 201.1Z" fill="#45E0D0"/>
<path d="M492.7 192.4L486.6 188.8L486.6 196.0Z" fill="#45E0D0"/>
<path d="M495.2 177.3L489.1 173.7L489.1 180.9Z" fill="#45E0D0"/>
<path d="M465.0 212.0L458.9 208.4L458.9 215.6Z" fill="#45E0D0"/>
<path d="M470.1 218.7L464.0 215.1L464.0 222.3Z" fill="#45E0D0"/>
<path d="M483.4 204.4L477.3 200.8L477.3 208.0Z" fill="#45E0D0"/>
<path d="M479.2 198.5L473.1 194.9L473.1 202.1Z" fill="#45E0D0"/>
<path d="M493.4 197.5L487.3 193.9L487.3 201.1Z" fill="#45E0D0"/>
<path d="M469.4 218.3L463.3 214.7L463.3 221.9Z" fill="#45E0D0"/>
<path d="M470.7 219.3L464.6 215.7L464.6 222.9Z" fill="#45E0D0"/>
<path d="M463.4 212.8L457.3 209.2L457.3 216.4Z" fill="#45E0D0"/>
<path d="M465.4 211.5L459.3 207.9L459.3 215.1Z" fill="#45E0D0"/>
<path d="M464.2 214.3L458.1 210.7L458.1 217.9Z" fill="#45E0D0"/>
<path d="M482.4 203.0L476.3 199.4L476.3 206.6Z" fill="#45E0D0"/>
<path d="M483.4 206.5L477.3 202.9L477.3 210.1Z" fill="#45E0D0"/>
<path d="M491.3 152.5L488.4 154.1L485.5 152.5L485.5 149.2L488.4 147.5L491.3 149.2Z" fill="#7D4E52"/>
<path d="M500.1 183.2L497.2 184.8L494.3 183.2L494.3 179.8L497.2 178.2L500.1 179.8Z" fill="#7D4E52"/>
<path d="M499.2 188.2L496.3 189.8L493.4 188.2L493.4 184.8L496.3 183.2L499.2 184.8Z" fill="#7D4E52"/>
<path d="M498.4 193.2L495.5 194.9L492.6 193.2L492.6 189.9L495.5 188.3L498.4 189.9Z" fill="#7D4E52"/>
<path d="M500.1 197.5L497.2 199.1L494.3 197.5L494.3 194.2L497.2 192.5L500.1 194.2Z" fill="#7D4E52"/>
<path d="M495.9 200.8L493.0 202.4L490.1 200.8L490.1 197.4L493.0 195.8L495.9 197.4Z" fill="#7D4E52"/>
<path d="M503.4 201.7L500.5 203.3L497.6 201.7L497.6 198.3L500.5 196.7L503.4 198.3Z" fill="#7D4E52"/>
<path d="M508.5 200.0L505.6 201.6L502.7 200.0L502.7 196.7L505.6 195.0L508.5 196.7Z" fill="#7D4E52"/>
<path d="M515.2 191.6L512.3 193.2L509.4 191.6L509.4 188.2L512.3 186.6L515.2 188.2Z" fill="#7D4E52"/>
<path d="M520.2 192.3L517.3 194.0L514.4 192.3L514.4 189.0L517.3 187.4L520.2 189.0Z" fill="#7D4E52"/>
<path d="M516.9 196.6L514.0 198.2L511.1 196.6L511.1 193.2L514.0 191.6L516.9 193.2Z" fill="#7D4E52"/>
<path d="M521.9 199.2L519.0 200.8L516.1 199.2L516.1 195.8L519.0 194.2L521.9 195.8Z" fill="#7D4E52"/>
<path d="M529.1 189.1L526.2 190.7L523.3 189.1L523.3 185.8L526.2 184.1L529.1 185.8Z" fill="#7D4E52"/>
<path d="M492.5 207.8L489.6 209.4L486.7 207.8L486.7 204.4L489.6 202.8L492.5 204.4Z" fill="#7D4E52"/>
<path d="M491.7 213.7L488.8 215.3L485.9 213.7L485.9 210.3L488.8 208.7L491.7 210.3Z" fill="#7D4E52"/>
<path d="M496.7 202.7L493.8 204.3L490.9 202.7L490.9 199.3L493.8 197.7L496.7 199.3Z" fill="#7D4E52"/>
<path d="M497.5 210.2L494.6 211.9L491.7 210.2L491.7 206.9L494.6 205.3L497.5 206.9Z" fill="#7D4E52"/>
<path d="M501.7 206.1L498.8 207.7L495.9 206.1L495.9 202.8L498.8 201.1L501.7 202.8Z" fill="#7D4E52"/>
<path d="M503.4 211.1L500.5 212.7L497.6 211.1L497.6 207.8L500.5 206.1L503.4 207.8Z" fill="#7D4E52"/>
<path d="M506.8 201.8L503.9 203.5L501.0 201.8L501.0 198.5L503.9 196.9L506.8 198.5Z" fill="#7D4E52"/>
<path d="M508.5 207.8L505.6 209.4L502.7 207.8L502.7 204.4L505.6 202.8L508.5 204.4Z" fill="#7D4E52"/>
<path d="M511.8 212.8L508.9 214.4L506.0 212.8L506.0 209.4L508.9 207.8L511.8 209.4Z" fill="#7D4E52"/>
<path d="M513.5 204.3L510.6 206.0L507.7 204.3L507.7 201.0L510.6 199.4L513.5 201.0Z" fill="#7D4E52"/>
<path d="M517.7 206.8L514.8 208.5L511.9 206.8L511.9 203.5L514.8 201.9L517.7 203.5Z" fill="#7D4E52"/>
<path d="M520.2 201.1L517.3 202.7L514.4 201.1L514.4 197.8L517.3 196.1L520.2 197.8Z" fill="#7D4E52"/>
<path d="M516.0 210.2L513.1 211.9L510.2 210.2L510.2 206.9L513.1 205.3L516.0 206.9Z" fill="#7D4E52"/>
<path d="M522.7 199.3L519.8 201.0L516.9 199.3L516.9 196.0L519.8 194.4L522.7 196.0Z" fill="#7D4E52"/>
<path d="M499.9 201.2L497.0 202.8L494.1 201.2L494.1 197.8L497.0 196.2L499.9 197.8Z" fill="#7D4E52"/>
<path d="M498.9 206.7L496.0 208.3L493.1 206.7L493.1 203.3L496.0 201.7L498.9 203.3Z" fill="#7D4E52"/>
<path d="M503.9 198.7L501.0 200.3L498.1 198.7L498.1 195.3L501.0 193.7L503.9 195.3Z" fill="#7D4E52"/>
<path d="M505.9 205.7L503.0 207.3L500.1 205.7L500.1 202.3L503.0 200.7L505.9 202.3Z" fill="#7D4E52"/>
<path d="M509.9 204.7L507.0 206.3L504.1 204.7L504.1 201.3L507.0 199.7L509.9 201.3Z" fill="#7D4E52"/>
<path d="M511.9 199.7L509.0 201.3L506.1 199.7L506.1 196.3L509.0 194.7L511.9 196.3Z" fill="#7D4E52"/>
<path d="M509.9 209.7L507.0 211.3L504.1 209.7L504.1 206.3L507.0 204.7L509.9 206.3Z" fill="#7D4E52"/>
<path d="M513.9 207.7L511.0 209.3L508.1 207.7L508.1 204.3L511.0 202.7L513.9 204.3Z" fill="#7D4E52"/>
<path d="M517.9 202.7L515.0 204.3L512.1 202.7L512.1 199.3L515.0 197.7L517.9 199.3Z" fill="#7D4E52"/>
<path d="M518.9 197.7L516.0 199.3L513.1 197.7L513.1 194.3L516.0 192.7L518.9 194.3Z" fill="#7D4E52"/>
<path d="M521.9 203.7L519.0 205.3L516.1 203.7L516.1 200.3L519.0 198.7L521.9 200.3Z" fill="#7D4E52"/>
<path d="M522.9 194.7L520.0 196.3L517.1 194.7L517.1 191.3L520.0 189.7L522.9 191.3Z" fill="#7D4E52"/>
<path d="M500.9 190.7L498.0 192.3L495.1 190.7L495.1 187.3L498.0 185.7L500.9 187.3Z" fill="#7D4E52"/>
<path d="M497.9 195.7L495.0 197.3L492.1 195.7L492.1 192.3L495.0 190.7L497.9 192.3Z" fill="#7D4E52"/>
<path d="M499.9 213.7L497.0 215.3L494.1 213.7L494.1 210.3L497.0 208.7L499.9 210.3Z" fill="#7D4E52"/>
<path d="M494.9 211.2L492.0 212.8L489.1 211.2L489.1 207.8L492.0 206.2L494.9 207.8Z" fill="#7D4E52"/>
<path d="M505.9 213.7L503.0 215.3L500.1 213.7L500.1 210.3L503.0 208.7L505.9 210.3Z" fill="#7D4E52"/>
<path d="M622.7 181.2L623.6 183.6L626.2 183.8L624.2 185.4L624.9 187.9L622.7 186.5L620.5 187.9L621.2 185.4L619.2 183.8L621.8 183.6Z" fill="#8E9424"/>
<path d="M627.2 179.9L628.1 182.3L630.7 182.5L628.7 184.1L629.4 186.6L627.2 185.2L625.0 186.6L625.7 184.1L623.7 182.5L626.3 182.3Z" fill="#8E9424"/>
<path d="M631.4 181.9L632.3 184.3L634.9 184.5L632.9 186.1L633.6 188.6L631.4 187.2L629.2 188.6L629.9 186.1L627.9 184.5L630.5 184.3Z" fill="#8E9424"/>
<path d="M635.6 180.4L636.5 182.8L639.1 183.0L637.1 184.6L637.8 187.1L635.6 185.7L633.4 187.1L634.1 184.6L632.1 183.0L634.7 182.8Z" fill="#8E9424"/>
<path d="M638.7 182.9L639.6 185.3L642.2 185.5L640.2 187.1L640.9 189.6L638.7 188.2L636.5 189.6L637.2 187.1L635.2 185.5L637.8 185.3Z" fill="#8E9424"/>
<path d="M659.1 177.4L660.0 179.8L662.6 180.0L660.6 181.6L661.3 184.1L659.1 182.7L656.9 184.1L657.6 181.6L655.6 180.0L658.2 179.8Z" fill="#8E9424"/>
<path d="M663.0 176.2L663.9 178.6L666.5 178.8L664.5 180.4L665.2 182.9L663.0 181.5L660.8 182.9L661.5 180.4L659.5 178.8L662.1 178.6Z" fill="#8E9424"/>
<path d="M667.0 175.7L667.9 178.1L670.5 178.3L668.5 179.9L669.2 182.4L667.0 181.0L664.8 182.4L665.5 179.9L663.5 178.3L666.1 178.1Z" fill="#8E9424"/>
<path d="M670.9 177.0L671.8 179.4L674.4 179.6L672.4 181.2L673.1 183.7L670.9 182.3L668.7 183.7L669.4 181.2L667.4 179.6L670.0 179.4Z" fill="#8E9424"/>
<path d="M676.4 178.2L677.3 180.6L679.9 180.8L677.9 182.4L678.6 184.9L676.4 183.5L674.2 184.9L674.9 182.4L672.9 180.8L675.5 180.6Z" fill="#8E9424"/>
<path d="M668.9 182.4L669.8 184.8L672.4 185.0L670.4 186.6L671.1 189.1L668.9 187.7L666.7 189.1L667.4 186.6L665.4 185.0L668.0 184.8Z" fill="#8E9424"/>
<path d="M662.5 179.0L663.4 181.4L666.0 181.6L664.0 183.2L664.7 185.7L662.5 184.3L660.3 185.7L661.0 183.2L659.0 181.6L661.6 181.4Z" fill="#8E9424"/>
<path d="M673.4 177.4L674.3 179.8L676.9 180.0L674.9 181.6L675.6 184.1L673.4 182.7L671.2 184.1L671.9 181.6L669.9 180.0L672.5 179.8Z" fill="#8E9424"/>
<path d="M660.5 180.8L661.4 183.2L664.0 183.4L662.0 185.0L662.7 187.5L660.5 186.1L658.3 187.5L659.0 185.0L657.0 183.4L659.6 183.2Z" fill="#8E9424"/>
<path d="M665.0 177.8L665.9 180.2L668.5 180.4L666.5 182.0L667.2 184.5L665.0 183.1L662.8 184.5L663.5 182.0L661.5 180.4L664.1 180.2Z" fill="#8E9424"/>
<path d="M669.5 178.8L670.4 181.2L673.0 181.4L671.0 183.0L671.7 185.5L669.5 184.1L667.3 185.5L668.0 183.0L666.0 181.4L668.6 181.2Z" fill="#8E9424"/>
<path d="M625.0 181.8L625.9 184.2L628.5 184.4L626.5 186.0L627.2 188.5L625.0 187.1L622.8 188.5L623.5 186.0L621.5 184.4L624.1 184.2Z" fill="#8E9424"/>
<path d="M629.5 180.8L630.4 183.2L633.0 183.4L631.0 185.0L631.7 187.5L629.5 186.1L627.3 187.5L628.0 185.0L626.0 183.4L628.6 183.2Z" fill="#8E9424"/>
<path d="M633.5 180.5L634.4 182.9L637.0 183.1L635.0 184.7L635.7 187.2L633.5 185.8L631.3 187.2L632.0 184.7L630.0 183.1L632.6 182.9Z" fill="#8E9424"/>
<line x1="495.0" y1="182.0" x2="479.7" y2="76.3" stroke="#000" stroke-width="1.1"/><path d="M478.7 69.6L482.1 78.0L479.7 76.8L477.8 78.6Z" fill="#000"/>
<line x1="495.0" y1="182.0" x2="653.2" y2="175.8" stroke="#000" stroke-width="1.1"/><path d="M660.0 175.5L651.3 178.0L652.7 175.8L651.1 173.7Z" fill="#000"/>
<line x1="495.0" y1="182.0" x2="476.5" y2="174.1" stroke="#000" stroke-width="1.1"/><path d="M470.2 171.4L479.1 172.9L476.9 174.3L477.4 176.8Z" fill="#000"/>
<line x1="495.0" y1="182.0" x2="414.6" y2="214.0" stroke="#000" stroke-width="1.1"/><path d="M408.3 216.5L415.7 211.2L415.1 213.8L417.3 215.2Z" fill="#000"/>
<text x="469.5" y="66.8" font-size="13.4" font-weight="bold">CaO</text>
<text x="442.6" y="171.3" font-size="13.4" font-weight="bold">MgO</text>
<text x="637.2" y="169.0" font-size="13.4" font-weight="bold">Fe<tspan font-size="9.5" dy="3.9">2</tspan><tspan dy="-3.9" font-size="1">&#8203;</tspan>O<tspan font-size="9.5" dy="3.9">3</tspan><tspan dy="-3.9" font-size="1">&#8203;</tspan></text>
<text x="395.0" y="230.4" font-size="13.4" font-weight="bold">Al<tspan font-size="9.5" dy="3.9">2</tspan><tspan dy="-3.9" font-size="1">&#8203;</tspan>O<tspan font-size="9.5" dy="3.9">3</tspan><tspan dy="-3.9" font-size="1">&#8203;</tspan></text>
<line x1="438.1" y1="242.0" x2="438.1" y2="237.3" stroke="#000" stroke-width="1.6"/>
<text x="438.7" y="254.2" font-size="12.3" font-weight="bold" text-anchor="middle">-0.008</text>
<line x1="494.0" y1="242.0" x2="494.0" y2="237.3" stroke="#000" stroke-width="1.6"/>
<text x="494.6" y="254.2" font-size="12.3" font-weight="bold" text-anchor="middle">0.000</text>
<line x1="549.9" y1="242.0" x2="549.9" y2="237.3" stroke="#000" stroke-width="1.6"/>
<text x="550.5" y="254.2" font-size="12.3" font-weight="bold" text-anchor="middle">0.008</text>
<line x1="605.8" y1="242.0" x2="605.8" y2="237.3" stroke="#000" stroke-width="1.6"/>
<text x="606.4" y="254.2" font-size="12.3" font-weight="bold" text-anchor="middle">0.016</text>
<line x1="661.7" y1="242.0" x2="661.7" y2="237.3" stroke="#000" stroke-width="1.6"/>
<text x="662.3" y="254.2" font-size="12.3" font-weight="bold" text-anchor="middle">0.024</text>
<line x1="410.1" y1="242.0" x2="410.1" y2="239.3" stroke="#000" stroke-width="1.6"/>
<line x1="466.1" y1="242.0" x2="466.1" y2="239.3" stroke="#000" stroke-width="1.6"/>
<line x1="522.0" y1="242.0" x2="522.0" y2="239.3" stroke="#000" stroke-width="1.6"/>
<line x1="577.9" y1="242.0" x2="577.9" y2="239.3" stroke="#000" stroke-width="1.6"/>
<line x1="633.8" y1="242.0" x2="633.8" y2="239.3" stroke="#000" stroke-width="1.6"/>
<line x1="389.4" y1="222.1" x2="394.09999999999997" y2="222.1" stroke="#000" stroke-width="1.6"/>
<text x="388.3" y="226.4" font-size="12.3" font-weight="bold" text-anchor="end">-0.004</text>
<line x1="389.4" y1="182.8" x2="394.09999999999997" y2="182.8" stroke="#000" stroke-width="1.6"/>
<text x="388.3" y="187.1" font-size="12.3" font-weight="bold" text-anchor="end">0.000</text>
<line x1="389.4" y1="143.5" x2="394.09999999999997" y2="143.5" stroke="#000" stroke-width="1.6"/>
<text x="388.3" y="147.8" font-size="12.3" font-weight="bold" text-anchor="end">0.004</text>
<line x1="389.4" y1="104.1" x2="394.09999999999997" y2="104.1" stroke="#000" stroke-width="1.6"/>
<text x="388.3" y="108.4" font-size="12.3" font-weight="bold" text-anchor="end">0.008</text>
<line x1="389.4" y1="64.8" x2="394.09999999999997" y2="64.8" stroke="#000" stroke-width="1.6"/>
<text x="388.3" y="69.1" font-size="12.3" font-weight="bold" text-anchor="end">0.012</text>
<line x1="389.4" y1="25.4" x2="394.09999999999997" y2="25.4" stroke="#000" stroke-width="1.6"/>
<text x="388.3" y="29.7" font-size="12.3" font-weight="bold" text-anchor="end">0.016</text>
<line x1="389.4" y1="241.8" x2="392.09999999999997" y2="241.8" stroke="#000" stroke-width="1.6"/>
<line x1="389.4" y1="202.5" x2="392.09999999999997" y2="202.5" stroke="#000" stroke-width="1.6"/>
<line x1="389.4" y1="163.1" x2="392.09999999999997" y2="163.1" stroke="#000" stroke-width="1.6"/>
<line x1="389.4" y1="123.8" x2="392.09999999999997" y2="123.8" stroke="#000" stroke-width="1.6"/>
<line x1="389.4" y1="84.5" x2="392.09999999999997" y2="84.5" stroke="#000" stroke-width="1.6"/>
<line x1="389.4" y1="45.1" x2="392.09999999999997" y2="45.1" stroke="#000" stroke-width="1.6"/>
<rect x="389.4" y="6.3" width="293.6" height="235.7" fill="none" stroke="#000" stroke-width="1.7"/>
</g>
<rect x="289.9" y="13.3" width="6.0" height="6.0" fill="#515151"/>
<text x="308.3" y="20.3" font-size="11.2" font-weight="bold">HYY</text>
<circle cx="292.9" cy="30.3" r="3.1" fill="#F14040"/>
<text x="308.3" y="34.3" font-size="11.2" font-weight="bold">JXY</text>
<path d="M292.9 40.6L296.5 46.4L289.3 46.4Z" fill="#4177F0"/>
<text x="308.3" y="48.3" font-size="11.2" font-weight="bold">DYY</text>
<path d="M292.9 62.0L296.5 56.2L289.3 56.2Z" fill="#48B673"/>
<text x="308.3" y="62.3" font-size="11.2" font-weight="bold">GQC</text>
<path d="M292.9 68.4L296.8 72.3L292.9 76.2L289.0 72.3Z" fill="#B177EE"/>
<text x="308.3" y="76.3" font-size="11.2" font-weight="bold">CGY</text>
<path d="M289.0 86.3L295.1 82.7L295.1 89.9Z" fill="#C8982A"/>
<text x="308.3" y="90.3" font-size="11.2" font-weight="bold">YZY</text>
<path d="M296.8 100.3L290.7 96.7L290.7 103.9Z" fill="#45E0D0"/>
<text x="308.3" y="104.3" font-size="11.2" font-weight="bold">YG</text>
<path d="M295.8 116.0L292.9 117.6L290.0 116.0L290.0 112.6L292.9 111.0L295.8 112.6Z" fill="#7D4E52"/>
<text x="308.3" y="118.3" font-size="11.2" font-weight="bold">LSDD</text>
<path d="M292.9 124.6L293.8 127.0L296.4 127.2L294.4 128.8L295.1 131.3L292.9 129.9L290.7 131.3L291.4 128.8L289.4 127.2L292.0 127.0Z" fill="#8E9424"/>
<text x="308.3" y="132.3" font-size="11.2" font-weight="bold">LHP</text>
<rect x="631.2" y="13.3" width="6.0" height="6.0" fill="#515151"/>
<text x="649.4" y="20.3" font-size="11.2" font-weight="bold">HYY</text>
<circle cx="634.2" cy="30.3" r="3.1" fill="#F14040"/>
<text x="649.4" y="34.3" font-size="11.2" font-weight="bold">JXY</text>
<path d="M634.2 40.6L637.8 46.4L630.6 46.4Z" fill="#4177F0"/>
<text x="649.4" y="48.3" font-size="11.2" font-weight="bold">DYY</text>
<path d="M634.2 62.0L637.8 56.2L630.6 56.2Z" fill="#48B673"/>
<text x="649.4" y="62.3" font-size="11.2" font-weight="bold">GQC</text>
<path d="M634.2 68.4L638.1 72.3L634.2 76.2L630.3 72.3Z" fill="#B177EE"/>
<text x="649.4" y="76.3" font-size="11.2" font-weight="bold">CGY</text>
<path d="M630.3 86.3L636.4 82.7L636.4 89.9Z" fill="#C8982A"/>
<text x="649.4" y="90.3" font-size="11.2" font-weight="bold">YZY</text>
<path d="M638.1 100.3L632.0 96.7L632.0 103.9Z" fill="#45E0D0"/>
<text x="649.4" y="104.3" font-size="11.2" font-weight="bold">YG</text>
<path d="M637.1 116.0L634.2 117.6L631.3 116.0L631.3 112.6L634.2 111.0L637.1 112.6Z" fill="#7D4E52"/>
<text x="649.4" y="118.3" font-size="11.2" font-weight="bold">LSDD</text>
<path d="M634.2 124.6L635.1 127.0L637.7 127.2L635.7 128.8L636.4 131.3L634.2 129.9L632.0 131.3L632.7 128.8L630.7 127.2L633.3 127.0Z" fill="#8E9424"/>
<text x="649.4" y="132.3" font-size="11.2" font-weight="bold">LHP</text>
<text x="193.8" y="272.4" font-size="14.8" font-weight="bold" text-anchor="middle">F1</text>
<text x="534.4" y="269.0" font-size="14.8" font-weight="bold" text-anchor="middle">F1</text>
<text transform="translate(12.4,124.3) rotate(-90)" font-size="15" font-weight="bold" text-anchor="middle">F2</text>
<text transform="translate(355.3,121.0) rotate(-90)" font-size="15" font-weight="bold" text-anchor="middle">F2</text>
<text x="54.8" y="31.1" font-size="24.2">(a)</text>
<text x="396.0" y="31.1" font-size="24.2">(b)</text>
</svg>
</body></html>
